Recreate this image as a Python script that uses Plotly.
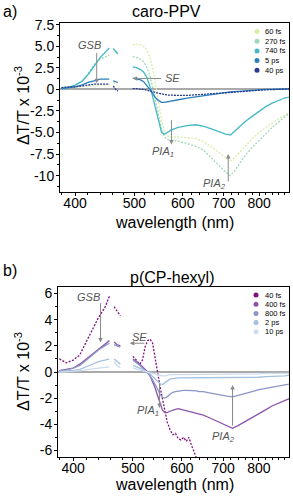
import math
import plotly.graph_objects as go

# ---------------- data: panel a (caro-PPV) ----------------
WL_A = [380, 390, 400, 410, 420, 430, 440, 448, 455, None, 462, 466, 470, None,
        497, 505, 512, 518, 524, 530, 536, 542, 548, 554, 560, 566, 575, 590, 610,
        630, 650, 670, 690, 705, 718, 730, 745, 760, 780, 800, 820, 840, 860, 880, 895]

A_60FS = [0.2, 0.2, 0.3, 0.3, 0.4, 0.4, 0.5, 0.5, 0.6, None, 0.8, 0.6, 0.5, None,
          5.2, 5.25, 5.2, 5.0, 4.6, 3.8, 2.4, 0.6, -1.5, -3.6, -4.9, -5.4, -5.5, -5.5, -5.6,
          -5.7, -6.1, -6.7, -7.4, -7.9, -8.3, -7.9, -7.2, -6.5, -5.7, -5.0, -4.4, -3.9, -3.4, -3.0, -2.7]
A_270FS = [0.2, 0.3, 0.5, 0.9, 1.8, 2.9, 3.5, 3.8, 4.0, None, 4.8, 4.5, 4.2, None,
           3.8, 3.7, 3.5, 3.2, 2.6, 1.6, 0.2, -1.5, -3.2, -4.6, -5.5, -5.8, -5.9, -6.0, -6.3,
           -6.6, -7.1, -8.0, -8.9, -9.6, -10.0, -9.4, -8.5, -7.6, -6.7, -5.9, -5.1, -4.4, -3.8, -3.2, -2.8]
A_740FS = [0.1, 0.2, 0.5, 0.9, 1.7, 2.7, 3.7, 4.3, 4.8, None, 4.7, 4.4, 4.1, None,
           2.6, 2.5, 2.3, 2.0, 1.4, 0.4, -0.9, -2.4, -3.9, -5.0, -5.2, -5.0, -4.7, -4.4, -4.2,
           -4.1, -4.3, -4.6, -5.0, -5.2, -5.3, -4.8, -4.2, -3.7, -3.1, -2.5, -2.0, -1.6, -1.3, -1.0, -0.9]
A_5PS = [0.1, 0.2, 0.3, 0.5, 0.8, 1.0, 1.2, 1.2, 1.2, None, 1.0, 0.9, 0.8, None,
         1.3, 1.2, 1.1, 0.9, 0.5, 0.0, -0.5, -1.0, -1.3, -1.5, -1.5, -1.45, -1.35, -1.2, -1.0,
         -0.85, -0.7, -0.55, -0.45, -0.35, -0.3, -0.25, -0.2, -0.15, -0.1, -0.05, 0.0, 0.0, 0.05, 0.05, 0.05]
A_40PS = [0.2, 0.3, 0.3, 0.4, 0.5, 0.6, 0.6, 0.6, 0.6, None, 0.4, 0.0, -0.2, None,
          0.1, 0.1, 0.0, 0.0, -0.1, -0.2, -0.3, -0.4, -0.5, -0.55, -0.6, -0.65, -0.7, -0.7, -0.7,
          -0.65, -0.6, -0.5, -0.45, -0.4, -0.35, -0.3, -0.25, -0.2, -0.15, -0.1, -0.05, 0.0, 0.0, 0.05, 0.05]

NAMES_A = ["60 fs", "270 fs", "740 fs", "5 ps", "40 ps"]
COLORS_A = ["#d9eea2", "#9fd8b8", "#45b8c7", "#2a7fbc", "#263a93"]
DASH_A = ["2px,1.5px", "2px,1.5px", "solid", "solid", "2px,1px"]

# ---------------- data: panel b (p(CP-hexyl)) ----------------
WL_B = [380, 390, 400, 410, 420, 430, 440, 450, 458, None, 466, 471, 477, None,
        500, 507, 513, 518, 523, 528, 533, 538, 543, 548, 553, 558, 563, 568, 574, 580,
        586, 592, 598, 604, 610, 616, 622, 628, 634, 640, 650, 665, 680, 695, 710, 725,
        740, 760, 780, 800, 820, 840, 860, 880, 900]

B_40FS = [1.0, 0.7, 0.9, 1.3, 2.3, 3.3, 4.2, 4.9, 5.8, None, 5.0, 4.7, 4.3, None,
          1.2, 0.9, 0.6, 0.9, 1.9, 2.4, 2.5, 2.2, 1.2, 0.0, -1.1, -2.0, -3.0, -3.8, -4.4, -4.8,
          -4.7, -5.1, -5.2, -5.0, -5.3, -5.0, -5.6, -6.2, -6.6, -7.0, -7.6, -8.5, None, None, None, None,
          None, None, None, None, None, None, None, None, None]
B_400FS = [0.1, 0.2, 0.3, 0.6, 1.0, 1.4, 1.8, 2.1, 2.4, None, 2.3, 2.1, 2.0, None,
           1.0, 0.8, 0.6, 0.4, 0.2, 0.0, -0.3, -0.7, -1.2, -1.8, -2.4, -2.9, -3.1, -3.1, -3.0, -2.9,
           -2.85, -2.8, -2.85, -2.9, -2.95, -3.0, -3.05, -3.1, -3.15, -3.2, -3.3, -3.5, -3.7, -3.9, -4.1, -4.3,
           -4.1, -3.8, -3.5, -3.2, -2.9, -2.6, -2.4, -2.2, -2.0]
B_800FS = [0.1, 0.15, 0.3, 0.5, 0.9, 1.3, 1.7, 2.0, 2.2, None, 2.1, 2.0, 1.9, None,
           0.9, 0.7, 0.5, 0.3, 0.1, -0.1, -0.3, -0.6, -0.9, -1.3, -1.7, -1.95, -2.0, -1.9, -1.7, -1.55,
           -1.5, -1.45, -1.4, -1.4, -1.4, -1.4, -1.4, -1.45, -1.45, -1.5, -1.5, -1.6, -1.7, -1.8, -1.85, -1.9,
           -1.8, -1.65, -1.5, -1.35, -1.25, -1.15, -1.05, -0.95, -0.9]
B_2PS = [0.0, 0.1, 0.1, 0.2, 0.4, 0.6, 0.8, 0.9, 1.0, None, 1.0, 0.8, 0.6, None,
         0.5, 0.4, 0.3, 0.2, 0.1, 0.0, -0.15, -0.35, -0.55, -0.75, -0.9, -0.95, -0.85, -0.7, -0.55, -0.5,
         -0.45, -0.45, -0.45, -0.45, -0.45, -0.45, -0.45, -0.45, -0.45, -0.45, -0.45, -0.45, -0.45, -0.45, -0.45, -0.45,
         -0.45, -0.45, -0.4, -0.4, -0.35, -0.35, -0.3, -0.3, -0.25]
B_10PS = [0.0, 0.0, 0.05, 0.1, 0.15, 0.2, 0.3, 0.35, 0.4, None, 0.8, 0.5, 0.3, None,
          0.3, 0.2, 0.15, 0.1, 0.05, 0.0, -0.05, -0.1, -0.2, -0.25, -0.3, -0.3, -0.3, -0.25, -0.2, -0.2,
          -0.2, -0.2, -0.2, -0.2, -0.2, -0.2, -0.2, -0.2, -0.2, -0.2, -0.2, -0.2, -0.2, -0.2, -0.2, -0.2,
          -0.15, -0.15, -0.15, -0.15, -0.1, -0.1, -0.1, -0.1, -0.1]

NAMES_B = ["40 fs", "400 fs", "800 fs", "2 ps", "10 ps"]
COLORS_B = ["#810f7c", "#8c55a8", "#8c96c6", "#a3c0df", "#cbdcee"]
DASH_B = ["2px,1.5px", "solid", "solid", "solid", "solid"]

X_TICKS = [400, 500, 600, 700, 800]
X_MINOR = [380, 420, 440, 460, 480, 520, 540, 560, 580, 620, 640, 660, 680, 720, 740, 760, 780, 820, 840, 860, 880]
Y_TICKS_A = [-10, -7.5, -5.0, -2.5, 0, 2.5, 5.0, 7.5]
Y_TICKTEXT_A = ["-10", "-7.5", "-5.0", "-2.5", "0", "2.5", "5.0", "7.5"]
Y_TICKS_B = [-6, -4, -2, 0, 2, 4, 6]

# ---------------- layout geometry (pixels) ----------------
W, H = 293, 497
FONT = "Liberation Sans, Arial, sans-serif"


def px(x):
    return x / W


def py(y):
    return 1 - y / H


fig = go.Figure()

series_a = [A_60FS, A_270FS, A_740FS, A_5PS, A_40PS]
for vals, c, d in zip(series_a, COLORS_A, DASH_A):
    fig.add_trace(go.Scatter(x=WL_A, y=vals, mode="lines", xaxis="x", yaxis="y",
                             line=dict(color=c, width=1.3, dash=d), showlegend=False,
                             connectgaps=False, hoverinfo="skip"))

series_b = [B_40FS, B_400FS, B_800FS, B_2PS, B_10PS]
for vals, c, d in zip(series_b, COLORS_B, DASH_B):
    fig.add_trace(go.Scatter(x=WL_B, y=vals, mode="lines", xaxis="x2", yaxis="y2",
                             line=dict(color=c, width=1.3, dash=d), showlegend=False,
                             connectgaps=False, hoverinfo="skip"))

xr = [math.log10(378), math.log10(895)]
xax = dict(type="log", range=xr, tickvals=X_TICKS, ticktext=[str(v) for v in X_TICKS],
           ticks="outside", ticklen=3, tickcolor="black", showline=True, linecolor="black",
           linewidth=1, mirror=True, showgrid=False, zeroline=False, automargin=False,
           ticklabelstandoff=-5,
           tickfont=dict(family=FONT, size=14, color="black"),
           minor=dict(tickvals=X_MINOR, ticks="outside", ticklen=2, tickcolor="black"))
yax = dict(ticks="outside", ticklen=3, tickcolor="black", showline=True, linecolor="black",
           linewidth=1, mirror=True, showgrid=False, zeroline=True, zerolinecolor="#aaaaaa",
           zerolinewidth=1.5, automargin=False, ticklabelstandoff=-1,
           tickfont=dict(family=FONT, size=14, color="black"))

fig.update_layout(
    width=W, height=H, margin=dict(l=0, r=0, t=0, b=0, pad=0, autoexpand=False),
    paper_bgcolor="white", plot_bgcolor="white", showlegend=False,
    xaxis=dict(xax, domain=[px(60), px(289)], anchor="y"),
    yaxis=dict(yax, domain=[py(192), py(23)], anchor="x", range=[-11.9, 7.7],
               tickvals=Y_TICKS_A, ticktext=Y_TICKTEXT_A,
               minor=dict(dtick=1.25, ticks="outside", ticklen=2, tickcolor="black")),
    xaxis2=dict(xax, domain=[px(58), px(289)], anchor="y2"),
    yaxis2=dict(yax, domain=[py(457), py(287)], anchor="x2", range=[-6.5, 6.5],
                tickvals=Y_TICKS_B, ticktext=[str(v) for v in Y_TICKS_B],
                minor=dict(dtick=1, ticks="outside", ticklen=2, tickcolor="black")),
)

ann = []
shapes = []


def text_px(x, y, s, size=16, xanchor="center", angle=0, color="black", italic=False):
    ann.append(dict(x=px(x), y=py(y), xref="paper", yref="paper", text=s, showarrow=False,
                    xanchor=xanchor, yanchor="middle", textangle=angle,
                    font=dict(family=FONT, size=size, color=color,
                              style="italic" if italic else "normal")))


# panel letters, titles, axis titles
text_px(10, 11, "a)", xanchor="center")
text_px(166, 11, "caro-PPV")
text_px(10, 270, "b)", xanchor="center")
text_px(172, 277, "p(CP-hexyl)")
text_px(174, 223, "wavelength (nm)")
text_px(174, 484, "wavelength (nm)")
text_px(22, 106, "ΔT/T x 10<sup>-3</sup>", angle=-90)
text_px(22, 372, "ΔT/T x 10<sup>-3</sup>", angle=-90)

# legends (manual, compact)
for i, (n, c) in enumerate(zip(NAMES_A, COLORS_A)):
    yy = 31.5 + 9.7 * i
    shapes.append(dict(type="circle", xref="paper", yref="paper", x0=px(254.5), x1=px(259.5),
                       y0=py(yy + 2.5), y1=py(yy - 2.5), fillcolor=c, line=dict(width=0)))
    text_px(263, yy, n, size=7.5, xanchor="left")
for i, (n, c) in enumerate(zip(NAMES_B, COLORS_B)):
    yy = 295 + 9.2 * i
    shapes.append(dict(type="circle", xref="paper", yref="paper", x0=px(253.5), x1=px(258.5),
                       y0=py(yy + 2.5), y1=py(yy - 2.5), fillcolor=c, line=dict(width=0)))
    text_px(262.5, yy, n, size=7.5, xanchor="left")


def arrow(xa, ya, lam, val, ax, ay):
    ann.append(dict(x=math.log10(lam), y=val, xref=xa, yref=ya, ax=ax, ay=ay, text="",
                    showarrow=True, arrowhead=2, arrowsize=0.9, arrowwidth=1, arrowcolor="#8a8a8a"))


def label(xa, ya, lam, val, s):
    ann.append(dict(x=math.log10(lam), y=val, xref=xa, yref=ya, text=s, showarrow=False,
                    font=dict(family=FONT, size=11, color="#555555", style="italic")))


# panel a annotations
arrow("x", "y", 434, 0.7, 0, -32)
label("x", "y", 422, 5.1, "GSB")
arrow("x", "y", 497, 1.27, 30, 0)
label("x", "y", 578, 1.27, "SE")
arrow("x", "y", 575, -6.4, 0, -26)
label("x", "y", 556, -7.3, "PIA<sub>1</sub>")
arrow("x", "y", 712, -7.5, 0, 29)
label("x", "y", 676, -11.0, "PIA<sub>2</sub>")

# panel b annotations
arrow("x2", "y2", 443, 2.25, 0, -41)
label("x2", "y2", 423, 5.7, "GSB")
arrow("x2", "y2", 494, 2.2, 16, 0)
label("x2", "y2", 512, 2.65, "SE")
arrow("x2", "y2", 552, -2.75, 0, -26)
label("x2", "y2", 528, -2.95, "PIA<sub>1</sub>")
arrow("x2", "y2", 725, -1.0, 0, 42)
label("x2", "y2", 700, -5.0, "PIA<sub>2</sub>")

fig.update_layout(annotations=ann, shapes=shapes)
fig.write_html("out.html", config={"displayModeBar": False},
               post_script="document.body.style.margin='0px';")
